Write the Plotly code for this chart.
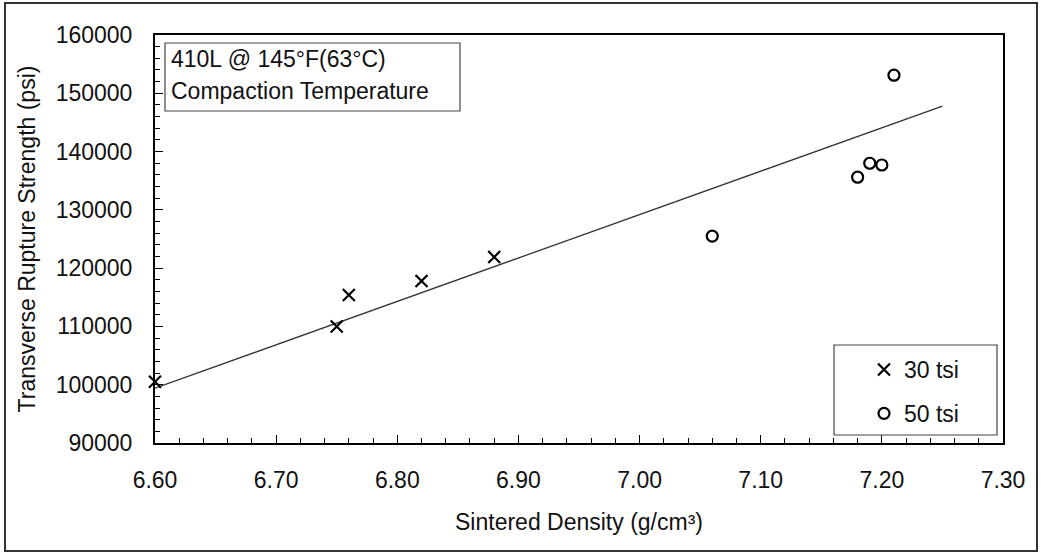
import plotly.graph_objects as go

# Data
density_30 = [6.60, 6.75, 6.76, 6.82, 6.88]
trs_30 = [100500, 110000, 115400, 117800, 121900]

density_50 = [7.06, 7.18, 7.19, 7.20, 7.21]
trs_50 = [125500, 135600, 138000, 137700, 153100]

fit_density = [6.60, 7.25]
fit_trs = [99400, 147800]

x_ticks = [6.60, 6.70, 6.80, 6.90, 7.00, 7.10, 7.20, 7.30]
x_ticklabels = ["6.60", "6.70", "6.80", "6.90", "7.00", "7.10", "7.20", "7.30"]
y_ticks = [90000, 100000, 110000, 120000, 130000, 140000, 150000, 160000]
y_ticklabels = [str(v) for v in y_ticks]

FONT = "Liberation Sans, Arial, sans-serif"
TXT = "#111111"
FS = 23

fig = go.Figure()

fig.add_trace(go.Scatter(
    x=fit_density, y=fit_trs, mode="lines",
    line=dict(color="#333333", width=1.3),
    showlegend=False, hoverinfo="skip", cliponaxis=False))

fig.add_trace(go.Scatter(
    x=density_30, y=trs_30, mode="markers", name="30 tsi",
    legendgroup="a", cliponaxis=False,
    marker=dict(symbol="x-thin", size=12, color="black",
                line=dict(color="black", width=2.2))))

fig.add_trace(go.Scatter(
    x=density_50, y=trs_50, mode="markers", name="50 tsi",
    legendgroup="b", cliponaxis=False,
    marker=dict(symbol="circle-open", size=11, color="black",
                line=dict(color="black", width=2.2))))

L, R, T, B = 155, 38, 35, 111
W, H = 1041, 554
pw, ph = W - L - R, H - T - B

def px(xp):
    return (xp - L) / pw

def py(yp):
    return (H - B - yp) / ph

fig.update_layout(
    width=W, height=H,
    margin=dict(l=L, r=R, t=T, b=B, pad=0),
    paper_bgcolor="white", plot_bgcolor="white",
    font=dict(family=FONT, size=FS, color=TXT),
    legend=dict(
        x=px(864), y=py(348), xanchor="left", yanchor="top",
        bgcolor="rgba(0,0,0,0)", borderwidth=0,
        font=dict(family=FONT, size=FS, color=TXT),
        tracegroupgap=11, traceorder="grouped",
    ),
    xaxis=dict(
        range=[6.6, 7.3],
        tickmode="array", tickvals=x_ticks, ticktext=x_ticklabels,
        ticks="inside", ticklen=8, tickwidth=1.2, tickcolor="black",
        minor=dict(dtick=0.02, ticks="inside", ticklen=5, tickcolor="black", tickwidth=1),
        showgrid=False, zeroline=False,
        showline=True, linecolor="black", linewidth=2, mirror=True,
        ticklabelstandoff=15,
        title=dict(text="Sintered Density (g/cm³)", standoff=22,
                   font=dict(family=FONT, size=FS, color=TXT)),
    ),
    yaxis=dict(
        range=[90000, 160000],
        tickmode="array", tickvals=y_ticks, ticktext=y_ticklabels,
        ticks="inside", ticklen=8, tickwidth=1.2, tickcolor="black",
        minor=dict(dtick=2000, ticks="inside", ticklen=5, tickcolor="black", tickwidth=1),
        showgrid=False, zeroline=False,
        showline=True, linecolor="black", linewidth=2, mirror=True,
        ticklabelstandoff=16,
        title=dict(text="Transverse Rupture Strength (psi)", standoff=14,
                   font=dict(family=FONT, size=FS, color=TXT)),
    ),
    shapes=[
        # outer chart border
        dict(type="rect", xref="paper", yref="paper",
             x0=px(5), x1=px(1037), y0=py(551), y1=py(3),
             line=dict(color="#333333", width=2)),
        # annotation box
        dict(type="rect", xref="paper", yref="paper",
             x0=px(165), x1=px(460), y0=py(111), y1=py(43),
             line=dict(color="#444444", width=1.2)),
        # legend box
        dict(type="rect", xref="paper", yref="paper",
             x0=px(834), x1=px(997), y0=py(435), y1=py(345),
             line=dict(color="#444444", width=1.2)),
    ],
    annotations=[
        dict(text="410L @ 145°F(63°C)", xref="paper", yref="paper",
             x=px(169), y=py(59), xanchor="left", yanchor="middle",
             showarrow=False, font=dict(family=FONT, size=FS, color=TXT)),
        dict(text="Compaction Temperature", xref="paper", yref="paper",
             x=px(169), y=py(91), xanchor="left", yanchor="middle",
             showarrow=False, font=dict(family=FONT, size=FS, color=TXT)),
    ],
)

fig.write_html("out.html")
